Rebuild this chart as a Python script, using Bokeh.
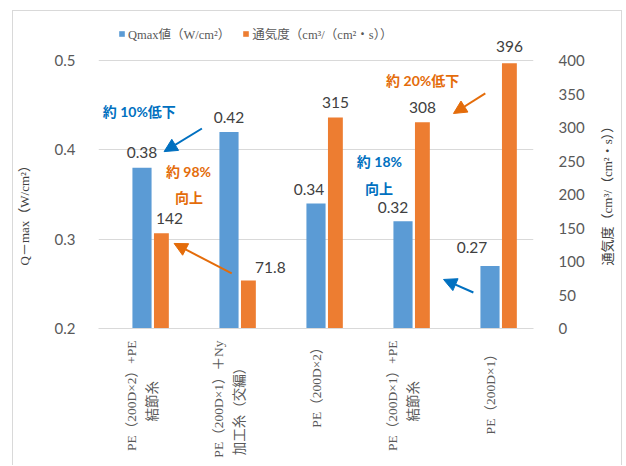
import math
from bokeh.plotting import figure
from bokeh.models import (Range1d, LinearAxis, FixedTicker, ColumnDataSource, LabelSet,
                          Label, Arrow, NormalHead, Legend, LegendItem)
from bokeh.core.properties import value
from bokeh.embed import file_html
from bokeh.resources import INLINE

# ---------------- data ----------------
categories = ["PE（200D×2）+PE\n結節糸",
              "PE（200D×1）＋Ny\n加工糸（交編）",
              "PE（200D×2）",
              "PE（200D×1）+PE\n結節糸",
              "PE（200D×1）"]
qmax = [0.38, 0.42, 0.34, 0.32, 0.27]
air = [142, 71.8, 315, 308, 396]
qmax_ticks = [0.2, 0.3, 0.4, 0.5]
air_ticks = [0, 50, 100, 150, 200, 250, 300, 350, 400]
series_names = ["Qmax値（W/cm²）", "通気度（cm³/（cm²・s））"]
left_title = "Q－max（W/cm²）"
right_title = "通気度（cm³/（cm²・s））"
notes = ["約 10%低下", "約 98%", "向上", "約 20%低下", "約 18%", "向上"]

# ---------------- style / layout ----------------
BLUE = "#5B9BD5"
ORANGE = "#ED7D31"
NOTE_BLUE = "#0070C0"
NOTE_ORANGE = "#E46C0A"
GRID = "#D9D9D9"
SANS = "Lato, Noto Sans CJK JP"
MINCHO = "Liberation Serif, Noto Sans CJK JP"
PAD = "\u3000"

blue_off, blue_w = 0.0, 0.22
orange_off, orange_w = 0.223, 0.171

# frame extends above the top gridline to hold legend / top label
PLOT_H, EXTRA_H = 268, 36
y_top = 0.2 + 0.3 * (PLOT_H + EXTRA_H) / PLOT_H
y2_top = 400 * (PLOT_H + EXTRA_H) / PLOT_H

blue_dx = [0, 0, -7, -10, -18]
blue_dy = [15, 14.5, 14, 14, 18.5]
orange_dx = [8, 22, 0, 0, 0]
orange_dy = [15, 12.5, 15, 14.6, 16.5]
cat_pad = [3, 2, 0, 3, 1]   # visual centring of the last line of each vertical label

idx = list(range(len(categories)))

p = figure(width=610, height=455, output_backend="svg", toolbar_location=None,
           x_range=Range1d(-0.5, 4.5), y_range=Range1d(0.2, y_top),
           min_border_left=83, min_border_right=90, min_border_top=13, min_border_bottom=138)
p.styles = {"border-top": "1px solid #D9D9D9", "border-left": "1px solid #D9D9D9",
            "border-right": "1px solid #D9D9D9"}
p.margin = (10, 0, 0, 12)
p.outline_line_color = None
p.background_fill_color = "white"
p.border_fill_color = "white"
p.extra_y_ranges = {"y2": Range1d(0, y2_top)}

# grid
p.xgrid.visible = False
p.ygrid.ticker = FixedTicker(ticks=qmax_ticks)
p.ygrid.grid_line_color = GRID

# x axis (category labels)
p.xaxis.ticker = FixedTicker(ticks=idx)
p.xaxis.major_label_overrides = {i: c + PAD * n for i, c, n in zip(idx, categories, cat_pad)}
p.xaxis.major_label_orientation = math.pi / 2
p.xaxis.major_label_standoff = 6
p.xaxis.major_label_text_font = MINCHO
p.xaxis.major_label_text_font_size = "13.5px"
p.xaxis.major_label_text_color = "#595959"
p.xaxis.major_label_text_line_height = 1.45
p.xaxis.axis_line_color = GRID
p.xaxis.major_tick_line_color = None
p.xaxis.minor_tick_line_color = None

# left axis
p.yaxis.ticker = FixedTicker(ticks=qmax_ticks)
p.yaxis.axis_line_color = None
p.yaxis.major_tick_line_color = None
p.yaxis.minor_tick_line_color = None
p.yaxis.major_label_standoff = 17
p.yaxis.major_label_text_font = SANS
p.yaxis.major_label_text_font_size = "15px"
p.yaxis.major_label_text_color = "#595959"
p.yaxis.axis_label = left_title + PAD * 6
p.yaxis.axis_label_standoff = 20
p.yaxis.axis_label_text_font = MINCHO
p.yaxis.axis_label_text_font_size = "13px"
p.yaxis.axis_label_text_font_style = "normal"
p.yaxis.axis_label_text_color = "#404040"

# right axis
ax2 = LinearAxis(y_range_name="y2", ticker=FixedTicker(ticks=air_ticks))
ax2.axis_line_color = None
ax2.major_tick_line_color = None
ax2.minor_tick_line_color = None
ax2.major_label_standoff = 19
ax2.major_label_text_font = SANS
ax2.major_label_text_font_size = "15px"
ax2.major_label_text_color = "#595959"
p.add_layout(ax2, "right")

# right axis title (reads bottom-to-top), placed in the right side panel
p.add_layout(Label(x=5.351, y=0.3522, text=right_title, angle=math.pi / 2,
                   text_align="center", text_baseline="middle", text_font=MINCHO,
                   text_font_size="13px", text_color="#404040"), "right")

# bars
bsrc = ColumnDataSource(dict(x=[i + blue_off for i in idx], top=qmax,
                             text=[f"{v:.2f}" for v in qmax], dx=blue_dx, dy=blue_dy))
osrc = ColumnDataSource(dict(x=[i + orange_off for i in idx], top=air,
                             text=[(str(int(v)) if float(v).is_integer() else str(v)) for v in air],
                             dx=orange_dx, dy=orange_dy))
rb = p.vbar(x="x", top="top", bottom=0.2, width=blue_w, source=bsrc,
            fill_color=BLUE, line_color=None)
ro = p.vbar(x="x", top="top", bottom=0, width=orange_w, source=osrc,
            fill_color=ORANGE, line_color=None, y_range_name="y2")

# value labels
for src, rng in ((bsrc, "default"), (osrc, "y2")):
    p.add_layout(LabelSet(x="x", y="top", text="text", source=src, y_range_name=rng,
                          x_offset="dx", y_offset="dy", text_align="center",
                          text_baseline="middle", text_font=value(SANS),
                          text_font_size="15.5px", text_color="#404040"))

# legend
legend = Legend(items=[LegendItem(label=series_names[0], renderers=[rb]),
                       LegendItem(label=series_names[1], renderers=[ro])],
                orientation="horizontal", location=(20, 285), padding=0, margin=0,
                spacing=12, glyph_width=7, glyph_height=7, label_standoff=3,
                label_height=14, label_text_font=MINCHO, label_text_font_size="12.5px",
                label_text_color="#595959", border_line_color=None,
                background_fill_alpha=0)
p.add_layout(legend)

# annotations
note_pos = [(-0.031, 0.4429, NOTE_BLUE), (0.534, 0.3758, NOTE_ORANGE), (0.54, 0.3466, NOTE_ORANGE),
            (3.226, 0.4776, NOTE_ORANGE), (2.729, 0.387, NOTE_BLUE), (2.723, 0.3567, NOTE_BLUE)]
for t, (x, y, c) in zip(notes, note_pos):
    p.add_layout(Label(x=x, y=y, text=t, text_align="center", text_baseline="middle",
                       text_font=SANS, text_font_style="bold", text_font_size="14px",
                       text_color=c))

arrows = [(0.689, 0.4239, 0.254, 0.398, NOTE_BLUE),
          (1.031, 0.2616, 0.369, 0.2952, NOTE_ORANGE),
          (3.946, 0.4631, 3.58, 0.4407, NOTE_ORANGE),
          (3.809, 0.2403, 3.466, 0.2549, NOTE_BLUE)]
for xs, ys, xe, ye, c in arrows:
    p.add_layout(Arrow(x_start=xs, y_start=ys, x_end=xe, y_end=ye, line_color=c, line_width=2,
                       end=NormalHead(size=13, fill_color=c, line_color=c, line_width=1)))

open("out.html", "w").write(file_html(p, INLINE))
